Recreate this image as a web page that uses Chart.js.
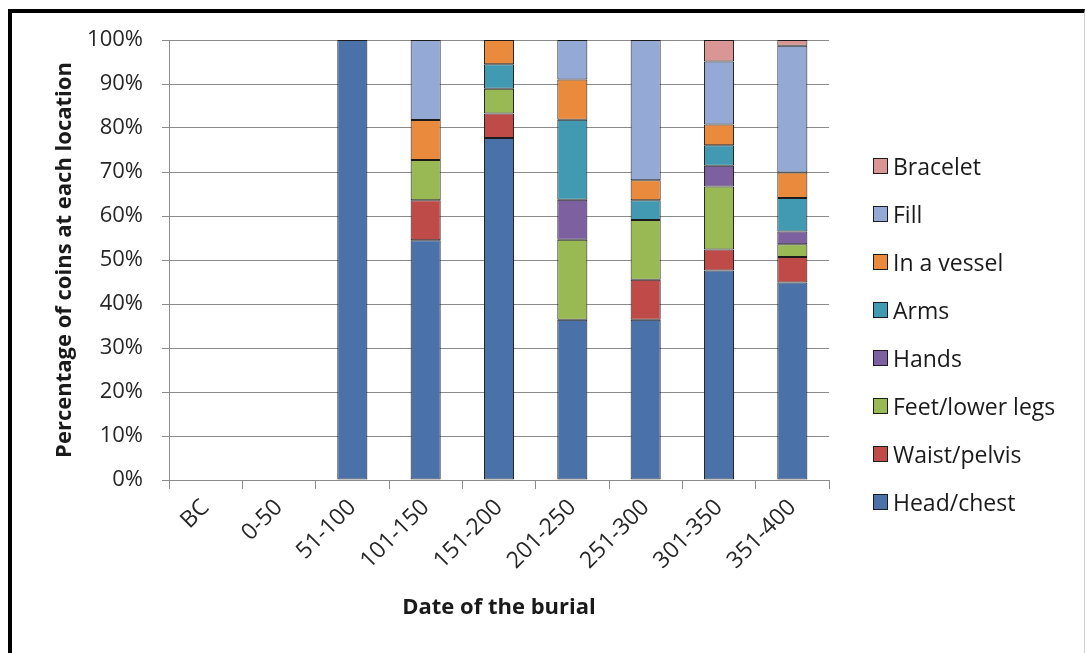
<!DOCTYPE html>
<html>
<head>
<meta charset="utf-8">
<script src="https://cdn.jsdelivr.net/npm/chart.js@4/dist/chart.umd.min.js"></script>
<style>
  html, body { margin: 0; padding: 0; background: #fff; overflow: hidden; }
  #wrap { position: relative; width: 1086px; height: 653px; }
  #frame {
    position: absolute; left: 8px; top: 9px; width: 1072px; height: 700px;
    border-top: 4px solid #000; border-left: 4px solid #000; border-right: 1px solid #cfcfcf;
    pointer-events: none;
  }
  canvas { position: absolute; left: 0; top: 0; }
  #legend {
    position: absolute; left: 873px; top: 142px;
    font-family: "Open Sans", Lato, sans-serif; font-size: 23px; color: #1a1a1a;
  }
  #legend .item { display: flex; align-items: center; height: 48px; line-height: 48px; white-space: nowrap; }
  #legend .box { width: 13px; height: 14px; border: 1px solid #1c1c1c; margin-right: 5px; flex: none; }
</style>
</head>
<body>
<div id="wrap">
  <canvas id="c" width="1086" height="653"></canvas>
  <div id="legend"></div>
  <div id="frame"></div>
</div>
<script>
// Burial date ranges
const categories = ['BC', '0-50', '51-100', '101-150', '151-200', '201-250', '251-300', '301-350', '351-400'];

// Share of coins (%) found at each location, per date range
const headChest     = [0, 0, 100, 54.5, 77.7, 36.4, 36.4, 47.6, 44.9];
const waistPelvis   = [0, 0, 0,   9.1,  5.6,  0,    9.1,  4.8,  5.8];
const feetLowerLegs = [0, 0, 0,   9.1,  5.6,  18.2, 13.6, 14.3, 2.9];
const hands         = [0, 0, 0,   0,    0,    9.1,  0,    4.7,  2.9];
const arms          = [0, 0, 0,   0,    5.6,  18.2, 4.5,  4.7,  7.6];
const inAVessel     = [0, 0, 0,   9.1,  5.5,  9.1,  4.5,  4.7,  5.8];
const fill          = [0, 0, 0,   18.2, 0,    9.0,  31.9, 14.3, 28.8];
const bracelet      = [0, 0, 0,   0,    0,    0,    0,    4.9,  1.3];

const yTicks = [0, 10, 20, 30, 40, 50, 60, 70, 80, 90, 100];

const series = [
  { label: 'Head/chest',       data: headChest,     color: '#4a72a8' },
  { label: 'Waist/pelvis',     data: waistPelvis,   color: '#be4b48' },
  { label: 'Feet/lower legs',  data: feetLowerLegs, color: '#98b954' },
  { label: 'Hands',            data: hands,         color: '#7d60a0' },
  { label: 'Arms',             data: arms,          color: '#4299b2' },
  { label: 'In a vessel',      data: inAVessel,     color: '#ea8a3c' },
  { label: 'Fill',             data: fill,          color: '#95a9d5' },
  { label: 'Bracelet',         data: bracelet,      color: '#d99694' }
];

const FONT = '"Open Sans", Lato, sans-serif';

const chart = new Chart(document.getElementById('c'), {
  type: 'bar',
  data: {
    labels: categories,
    datasets: series.map(s => ({
      label: s.label,
      data: s.data,
      backgroundColor: s.color,
      borderColor: '#1c1c1c',
      borderWidth: 1,
      borderSkipped: false,
      barPercentage: 0.41,
      categoryPercentage: 1
    }))
  },
  options: {
    responsive: false,
    animation: false,
    devicePixelRatio: 1,
    layout: { padding: { left: 0, top: 40, right: 257, bottom: 25 } },
    plugins: {
      tooltip: { enabled: false },
      legend: { display: false }
    },
    scales: {
      x: {
        stacked: true,
        grid: {
          display: true,
          drawOnChartArea: false,
          drawTicks: true,
          tickLength: 9,
          color: '#8a8a8a',
          offset: true
        },
        border: { display: true, color: '#8a8a8a' },
        ticks: {
          font: { family: FONT, size: 23 },
          color: '#262626',
          maxRotation: 45,
          minRotation: 45,
          padding: 5,
          autoSkip: false
        },
        title: {
          display: true,
          text: 'Date of the burial',
          font: { family: FONT, size: 22, weight: 'bold' },
          color: '#1a1a1a',
          padding: { top: 0, bottom: 7 }
        },
        afterFit: s => { s.height = 148; }
      },
      y: {
        stacked: true,
        min: 0,
        max: 100,
        afterBuildTicks: s => { s.ticks = yTicks.map(v => ({ value: v })); },
        grid: { color: '#8a8a8a', tickLength: 7, drawTicks: true },
        border: { display: true, color: '#8a8a8a' },
        ticks: {
          font: { family: FONT, size: 22 },
          color: '#262626',
          padding: 19,
          callback: v => v + '%'
        },
        title: {
          display: true,
          text: 'Percentage of coins at each location',
          font: { family: FONT, size: 22, weight: 'bold' },
          color: '#1a1a1a',
          padding: { top: 52, bottom: 0 }
        },
        afterFit: s => { s.width = 169; }
      }
    }
  }
});

// Legend, listed top to bottom in reverse stacking order
const legendEl = document.getElementById('legend');
chart.data.datasets.slice().reverse().forEach(ds => {
  const item = document.createElement('div');
  item.className = 'item';
  const box = document.createElement('span');
  box.className = 'box';
  box.style.background = ds.backgroundColor;
  const text = document.createElement('span');
  text.textContent = ds.label;
  item.appendChild(box);
  item.appendChild(text);
  legendEl.appendChild(item);
});
</script>
</body>
</html>
